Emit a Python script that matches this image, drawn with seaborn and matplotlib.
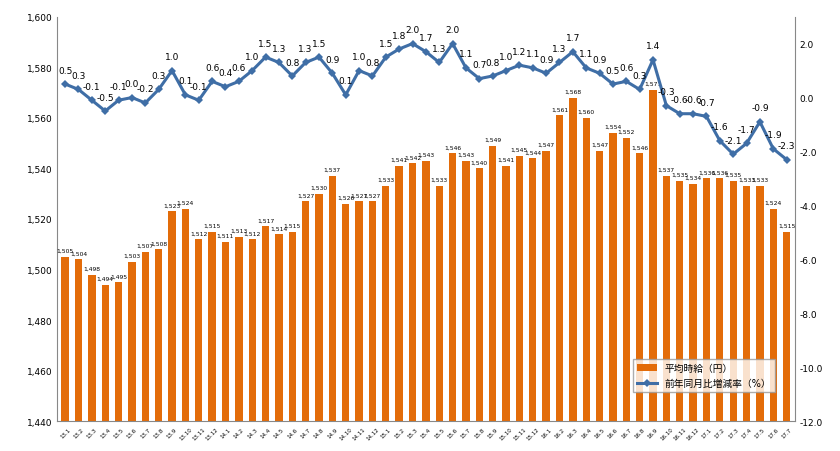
import matplotlib
matplotlib.use("Agg")
import matplotlib.pyplot as plt
import seaborn as sns
import pandas as pd
from matplotlib.ticker import FuncFormatter

months = ([f"13.{i}" for i in range(1, 13)] + [f"14.{i}" for i in range(1, 13)] +
          [f"15.{i}" for i in range(1, 13)] + [f"16.{i}" for i in range(1, 13)] +
          [f"17.{i}" for i in range(1, 8)])
wages = [1505, 1504, 1498, 1494, 1495, 1503, 1507, 1508, 1523, 1524, 1512, 1515,
         1511, 1513, 1512, 1517, 1514, 1515, 1527, 1530, 1537, 1526, 1527, 1527,
         1533, 1541, 1542, 1543, 1533, 1546, 1543, 1540, 1549, 1541, 1545, 1544,
         1547, 1561, 1568, 1560, 1547, 1554, 1552, 1546, 1571, 1537, 1535, 1534,
         1536, 1536, 1535, 1533, 1533, 1524, 1515]
yoy = [0.5, 0.3, -0.1, -0.5, -0.1, 0.0, -0.2, 0.3, 1.0, 0.1, -0.1, 0.6,
       0.4, 0.6, 1.0, 1.5, 1.3, 0.8, 1.3, 1.5, 0.9, 0.1, 1.0, 0.8,
       1.5, 1.8, 2.0, 1.7, 1.3, 2.0, 1.1, 0.7, 0.8, 1.0, 1.2, 1.1,
       0.9, 1.3, 1.7, 1.1, 0.9, 0.5, 0.6, 0.3, 1.4, -0.3, -0.6, -0.6,
       -0.7, -1.6, -2.1, -1.7, -0.9, -1.9, -2.3]

plt.rcParams["font.family"] = ["DejaVu Sans", "Noto Sans CJK JP"]
df = pd.DataFrame({"month": months, "wage": wages, "yoy": yoy})
df["x"] = range(len(df))

fig = plt.figure(figsize=(8.4, 4.52), dpi=100)
ax = fig.add_axes([0.068, 0.066, 0.878, 0.895])
orange = "#E36C09"
blue = "#3F6EA6"
sns.barplot(data=df, x="x", y="wage", color=orange, width=0.55, ax=ax,
            saturation=1, label="平均時給（円）", bottom=0)
ax.set_ylim(1440, 1600)
ax.set_yticks(range(1440, 1601, 20))
ax.yaxis.set_major_formatter(FuncFormatter(lambda v, p: f"{int(v):,}"))
ax.set_xticks(range(len(df)))
ax.set_xticklabels(months, rotation=45, fontsize=4)
ax.set_xlim(-0.6, len(df) - 0.4)
ax.set_xlabel(""); ax.set_ylabel("")
ax.tick_params(axis="y", labelsize=6.5, length=0)
ax.tick_params(axis="x", length=0)
for s in ["top", "right"]:
    ax.spines[s].set_visible(False)
for s in ["left", "bottom"]:
    ax.spines[s].set_color("#888888")
for i, w in enumerate(wages):
    ax.text(i, w + 1.5, f"{w:,}", ha="center", va="bottom", fontsize=4.3)

ax2 = ax.twinx()
sns.lineplot(data=df, x="x", y="yoy", ax=ax2, color=blue, linewidth=2.2,
             marker="D", markersize=4, markeredgewidth=0, label="前年同月比増減率（%）",
             legend=False)
ax2.set_ylim(-12, 3)
ax2.set_yticks(range(-12, 3, 2))
ax2.yaxis.set_major_formatter(FuncFormatter(lambda v, p: f"{v:.1f}"))
ax2.tick_params(axis="y", labelsize=6.5, length=0)
ax2.set_ylabel("")
for s in ["top", "left", "bottom"]:
    ax2.spines[s].set_visible(False)
ax2.spines["right"].set_color("#888888")
for i, v in enumerate(yoy):
    ax2.text(i, v + 0.35, f"{v:.1f}", ha="center", va="bottom", fontsize=6.5)

h1, l1 = ax.get_legend_handles_labels()
h2, l2 = ax2.get_legend_handles_labels()
if ax.get_legend() is not None:
    ax.get_legend().remove()
ax2.legend(h1 + h2, l1 + l2, loc="lower right", bbox_to_anchor=(0.98, 0.06),
           fontsize=7, frameon=True, fancybox=False, edgecolor="#999999")
fig.savefig("out.png", dpi=100)
